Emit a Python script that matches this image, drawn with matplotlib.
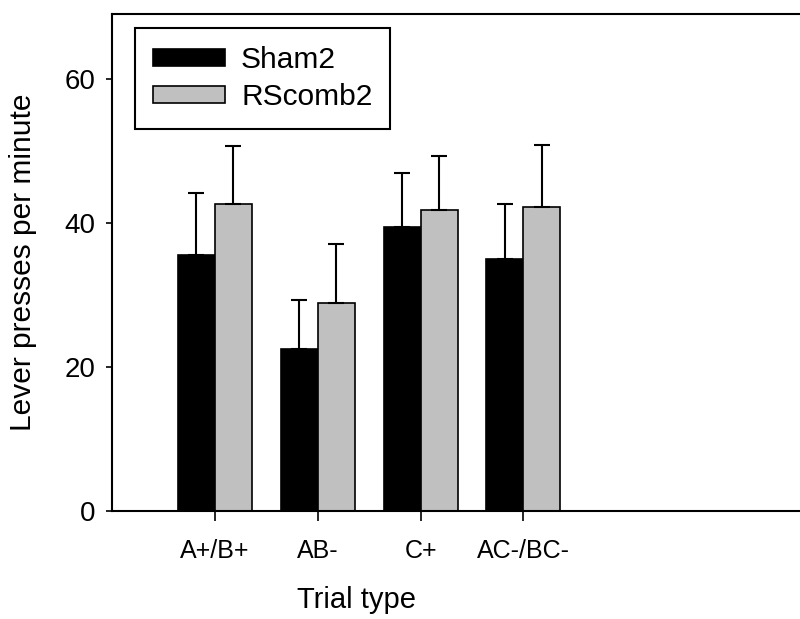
import matplotlib
matplotlib.use('Agg')
import matplotlib.pyplot as plt
import numpy as np

plt.rcParams['font.family'] = ['Liberation Sans', 'DejaVu Sans']

# datos
tipos = ['A+/B+', 'AB-', 'C+', 'AC-/BC-']
sham2 = [35.6, 22.5, 39.4, 35.0]
sham2_err = [8.5, 6.8, 7.5, 7.6]
rscomb2 = [42.6, 28.9, 41.8, 42.2]
rscomb2_err = [8.1, 8.2, 7.5, 8.6]

x = np.arange(len(tipos))
w = 0.36

fig = plt.figure(figsize=(8, 6.19), dpi=100)
ax = fig.add_axes([0.14, 0.1745, 0.9, 0.803])

ek = dict(ecolor='black', elinewidth=1.5, capsize=5.5, capthick=1.5)
ax.bar(x - w/2, sham2, w, color='black', edgecolor='black', linewidth=1.2, label='Sham2',
       yerr=[np.zeros(4), sham2_err], error_kw=ek)
ax.bar(x + w/2, rscomb2, w, color='#c0c0c0', edgecolor='black', linewidth=1.2, label='RScomb2',
       yerr=[np.zeros(4), rscomb2_err], error_kw=ek)

ax.set_xlim(-1.0, 6.0)
ax.set_ylim(0, 69)
ax.set_yticks([0, 20, 40, 60])
ax.set_xticks(x)
ax.set_xticklabels(tipos)
ax.tick_params(axis='x', direction='out', length=7, width=1.2, pad=13, labelsize=18)
ax.tick_params(axis='y', direction='out', length=4, width=1.2, pad=8, labelsize=20)
for s in ['left', 'bottom', 'top']:
    ax.spines[s].set_linewidth(1.5)
ax.spines['right'].set_visible(False)

ax.set_xlabel('Trial type', fontsize=21)
ax.xaxis.set_label_coords(0.339, -0.15)
ax.set_ylabel('Lever presses per minute', fontsize=21.5)
ax.yaxis.set_label_coords(-0.104, 0.5)

leg = ax.legend(loc='upper left', bbox_to_anchor=(0.032, 0.972), borderaxespad=0, fontsize=21.5,
                frameon=True, fancybox=False, framealpha=1, handlelength=2.4, handleheight=0.5,
                handletextpad=0.55, borderpad=0.6, labelspacing=0.3)
leg.get_frame().set_edgecolor('black')
leg.get_frame().set_linewidth(1.5)

fig.savefig('out.png', dpi=100)
